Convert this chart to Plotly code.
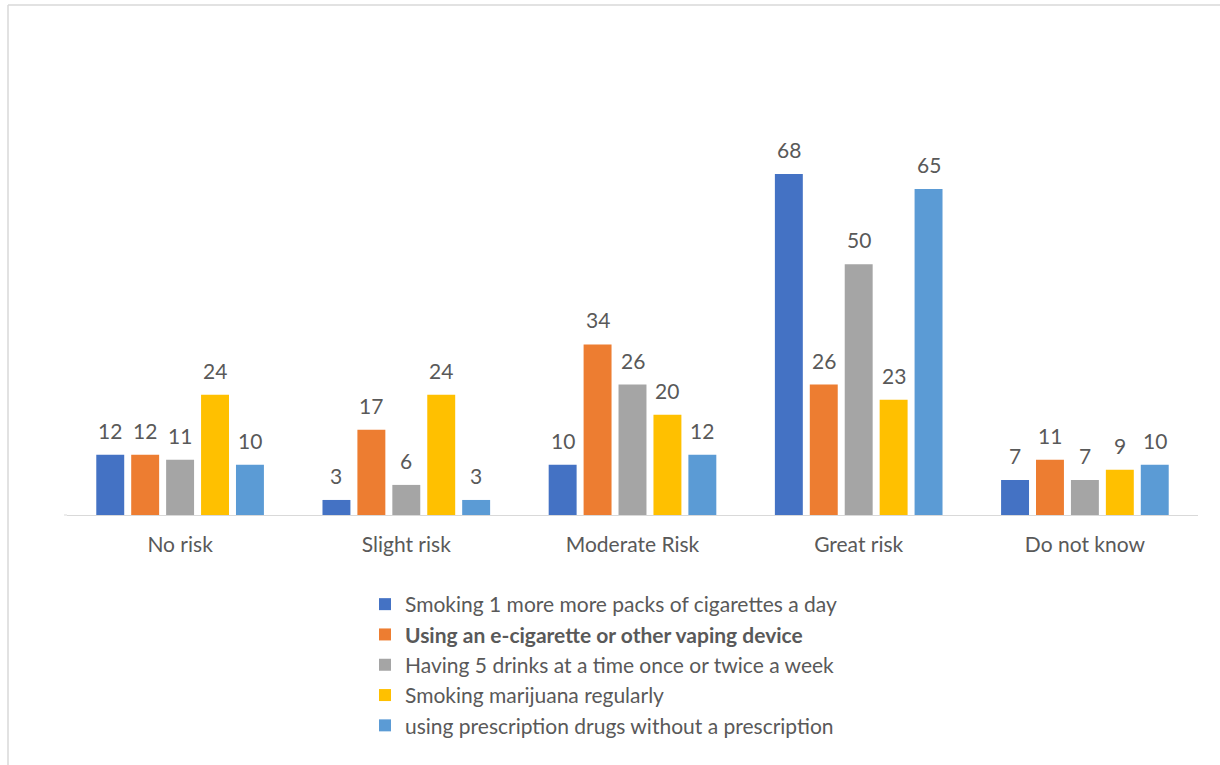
import plotly.graph_objects as go

categories = ["No risk", "Slight risk", "Moderate Risk", "Great risk", "Do not know"]
series_names = [
    "Smoking 1 more more packs of cigarettes a day",
    "<b>Using an e-cigarette or other vaping device</b>",
    "Having 5 drinks at a time once or twice a week",
    "Smoking marijuana regularly",
    "using prescription drugs without a prescription",
]
smoking = [12, 3, 10, 68, 7]
vaping = [12, 17, 34, 26, 11]
drinks = [11, 6, 26, 50, 7]
marijuana = [24, 24, 20, 23, 9]
prescription = [10, 3, 12, 65, 10]
colors = ["#4472C4", "#ED7D31", "#A5A5A5", "#FFC000", "#5B9BD5"]

all_series = [smoking, vaping, drinks, marijuana, prescription]

FONT = "Lato"
TXT = "#595959"
FS = 21

W, H = 1220, 765
ml, mr, mt, mb = 67, 22, 60, 250
plot_w = W - ml - mr
plot_h = H - mt - mb
bargap = 0.228
bargroupgap = 0.2

fig = go.Figure()
for i, (name, vals, col) in enumerate(zip(series_names, all_series, colors)):
    fig.add_trace(go.Bar(
        x=categories, y=vals, name=name, marker_color=col,
        marker_line_width=0, legendgroup=f"g{i}",
    ))

# data labels as annotations above each bar
cat_w = plot_w / len(categories)
group_w = cat_w * (1 - bargap)
slot = group_w / len(all_series)
annotations = []
for i, vals in enumerate(all_series):
    xs = (i - (len(all_series) - 1) / 2) * slot
    for c, v in zip(categories, vals):
        annotations.append(dict(
            x=c, y=v, text=str(v), showarrow=False, xref="x", yref="y",
            xshift=xs, yshift=10, yanchor="bottom",
            font=dict(family=FONT, size=FS, color=TXT),
        ))

# outer light border and axis extension
shapes = [
    dict(type="line", xref="paper", yref="paper",
         x0=(8 - ml) / plot_w, x1=(W - ml) / plot_w,
         y0=(H - mb - 5) / plot_h, y1=(H - mb - 5) / plot_h,
         line=dict(color="#D9D9D9", width=1.5)),
    dict(type="line", xref="paper", yref="paper",
         x0=(8 - ml) / plot_w, x1=(8 - ml) / plot_w,
         y0=(H - mb - 5) / plot_h, y1=(H - mb - H) / plot_h,
         line=dict(color="#D9D9D9", width=1.5)),
    dict(type="line", xref="paper", yref="paper",
         x0=(64 - ml) / plot_w, x1=0, y0=0, y1=0,
         line=dict(color="#D9D9D9", width=1)),
]

fig.update_layout(
    width=W, height=H,
    margin=dict(l=ml, r=mr, t=mt, b=mb, pad=0),
    paper_bgcolor="white", plot_bgcolor="white",
    barmode="group", bargap=bargap, bargroupgap=bargroupgap,
    font=dict(family=FONT, size=FS, color=TXT),
    xaxis=dict(showline=True, linecolor="#D9D9D9", linewidth=1,
               ticks="", showgrid=False, tickfont=dict(size=FS, color=TXT),
               ticklabelstandoff=11),
    yaxis=dict(range=[0, plot_h / 5.015], visible=False, showgrid=False),
    showlegend=True,
    legend=dict(x=(365 - ml) / plot_w, xanchor="left",
                y=(H - mb - 584) / plot_h, yanchor="top",
                traceorder="grouped", tracegroupgap=0,
                font=dict(family=FONT, size=FS, color=TXT),
                bgcolor="rgba(0,0,0,0)"),
    annotations=annotations,
    shapes=shapes,
)

fig.write_html("out.html")
